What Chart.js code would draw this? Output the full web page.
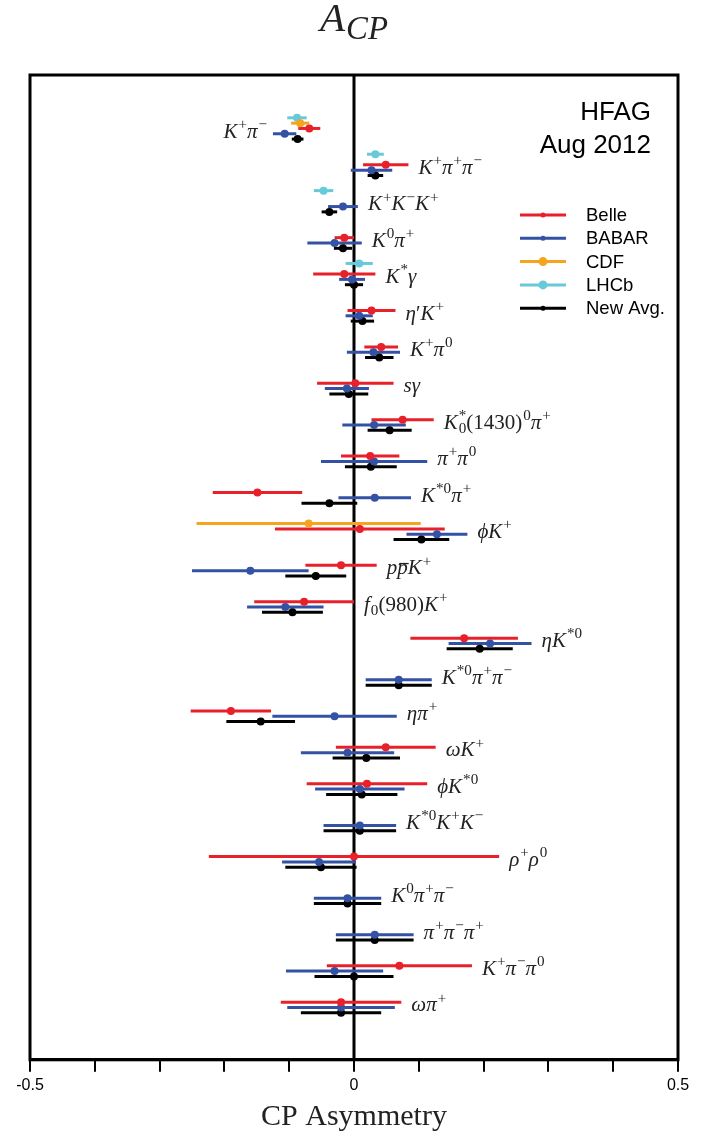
<!DOCTYPE html>
<html>
<head>
<meta charset="utf-8">
<title>A_CP</title>
<script src="https://cdn.jsdelivr.net/npm/chart.js@4.4.0/dist/chart.umd.min.js"></script>
<style>
  body { margin: 0; background: #fff; }
  canvas { display: block; }
</style>
</head>
<body>
<canvas id="chart" width="718" height="1135"></canvas>
<script>
// decay channels, top to bottom
const channels = [
  'K^{+}π^{−}',
  'K^{+}π^{+}π^{−}',
  'K^{+}K^{−}K^{+}',
  'K^{0}π^{+}',
  'K^{*}γ',
  'η′K^{+}',
  'K^{+}π^{0}',
  'sγ',
  'K^{*}_{0}(1430)^{0}π^{+}',
  'π^{+}π^{0}',
  'K^{*0}π^{+}',
  'ϕK^{+}',
  'p\\bar{p}K^{+}',
  'f_{0}(980)K^{+}',
  'ηK^{*0}',
  'K^{*0}π^{+}π^{−}',
  'ηπ^{+}',
  'ωK^{+}',
  'ϕK^{*0}',
  'K^{*0}K^{+}K^{−}',
  'ρ^{+}ρ^{0}',
  'K^{0}π^{+}π^{−}',
  'π^{+}π^{−}π^{+}',
  'K^{+}π^{−}π^{0}',
  'ωπ^{+}',
]

const belle = [-0.069, 0.049, null, -0.015, -0.015, 0.027, 0.042, 0.002, 0.075, 0.025, -0.149, 0.009, -0.020,
  -0.077, 0.170, null, -0.190, 0.049, 0.020, null, 0.000, null, null, 0.070, -0.020]
const belleErr = [0.017, 0.035, null, 0.015, 0.048, 0.037, 0.026, 0.059, 0.048, 0.045, 0.069, 0.131, 0.055,
  0.077, 0.083, null, 0.062, 0.077, 0.093, null, 0.224, null, null, 0.112, 0.093]

const babar = [-0.107, 0.027, -0.017, -0.030, -0.003, 0.008, 0.030, -0.011, 0.031, 0.031, 0.032, 0.128, -0.160,
  -0.106, 0.210, 0.069, -0.030, -0.010, 0.009, 0.009, -0.054, -0.010, 0.032, -0.030, -0.020]
const babarErr = [0.018, 0.032, 0.023, 0.042, 0.020, 0.021, 0.041, 0.034, 0.049, 0.082, 0.056, 0.047, 0.090,
  0.059, 0.064, 0.051, 0.096, 0.072, 0.069, 0.056, 0.057, 0.052, 0.060, 0.075, 0.083]

const cdf = [-0.083, null, null, null, null, null, null, null, null, null, null, -0.070, null,
  null, null, null, null, null, null, null, null, null, null, null, null]
const cdfErr = [0.014, null, null, null, null, null, null, null, null, null, null, 0.173, null,
  null, null, null, null, null, null, null, null, null, null, null, null]

const lhcb = [-0.088, 0.033, -0.047, null, 0.008, null, null, null, null, null, null, null, null,
  null, null, null, null, null, null, null, null, null, null, null, null]
const lhcbErr = [0.015, 0.013, 0.015, null, 0.021, null, null, null, null, null, null, null, null,
  null, null, null, null, null, null, null, null, null, null, null, null]

const newAvg = [-0.087, 0.033, -0.038, -0.017, 0.000, 0.013, 0.039, -0.008, 0.055, 0.026, -0.038, 0.104, -0.059,
  -0.095, 0.194, 0.069, -0.144, 0.019, 0.012, 0.009, -0.051, -0.010, 0.032, 0.000, -0.020]
const newAvgErr = [0.009, 0.012, 0.012, 0.014, 0.014, 0.018, 0.022, 0.030, 0.034, 0.040, 0.043, 0.043, 0.047,
  0.047, 0.051, 0.051, 0.053, 0.052, 0.055, 0.056, 0.055, 0.052, 0.060, 0.061, 0.062]

const tickValues = [-0.5, 0, 0.5]
const tickText = ['-0.5', '0', '0.5']

// channels whose name sits left of the bars
const labelOnLeft = [0]

const ROW_STEP = 0.146
const SERIF = '"Liberation Serif", "DejaVu Serif", serif'
const SANS = '"Liberation Sans", Arial, sans-serif'

// slot = position inside a channel row, counted upwards from the average
const experiments = [
  { name: 'Belle', color: '#e8202a', slot: 2, values: belle, errors: belleErr, dot: 2.5 },
  { name: 'BABAR', color: '#3452a4', slot: 1, values: babar, errors: babarErr, dot: 2.5 },
  { name: 'CDF', color: '#f6a31f', slot: 3, values: cdf, errors: cdfErr, dot: 4.5 },
  { name: 'LHCb', color: '#68c9da', slot: 4, values: lhcb, errors: lhcbErr, dot: 4.5 },
  { name: 'New Avg.', color: '#000000', slot: 0, values: newAvg, errors: newAvgErr, dot: 2.5 },
]

function points( exp ) {
  const pts = []
  exp.values.forEach( ( v, i ) => {
    if ( v === null ) return
    pts.push( { x: v, y: i - exp.slot * ROW_STEP, err: exp.errors[i] } )
  } )
  return pts
}

// --- tiny math-text renderer (sup/sub/bar) ---
function parseMath( str ) {
  const out = []
  let i = 0
  const grab = () => {
    if ( str[i] === '{' ) {
      const end = str.indexOf( '}', i )
      const s = str.slice( i + 1, end )
      i = end + 1
      return s
    }
    return str[i++]
  }
  while ( i < str.length ) {
    if ( str[i] === '^' ) { i++; out.push( { text: grab(), kind: 'sup' } ) }
    else if ( str[i] === '_' ) { i++; out.push( { text: grab(), kind: 'sub' } ) }
    else if ( str.startsWith( '\\bar', i ) ) { i += 4; out.push( { text: grab(), kind: 'bar' } ) }
    else { out.push( { text: str[i], kind: 'base' } ); i++ }
  }
  return out
}

const uprightChars = /[0-9()+−*′]/
function fontFor( ch, size ) {
  return ( uprightChars.test( ch ) ? '' : 'italic ' ) + size + 'px ' + SERIF
}

function layoutMath( ctx, str, size, scriptScale ) {
  const ops = []
  let x = 0
  let scriptX = null
  let scriptW = 0
  let lastScript = null
  parseMath( str ).forEach( ( part ) => {
    const isScript = part.kind === 'sup' || part.kind === 'sub'
    const s = isScript ? size * scriptScale : size
    const dy = part.kind === 'sup' ? -size * 0.42 : part.kind === 'sub' ? size * 0.2 : 0
    let start
    if ( isScript && lastScript && lastScript !== part.kind ) {
      start = scriptX
    } else {
      if ( scriptX !== null ) { x = scriptX + scriptW; scriptX = null; scriptW = 0 }
      start = x + ( isScript ? 1 : 0 )
    }
    let cx = start
    for ( const ch of part.text ) {
      ctx.font = fontFor( ch, s )
      const w = ctx.measureText( ch ).width
      ops.push( { ch, x: cx, dy, size: s, w, bar: part.kind === 'bar' } )
      cx += w
    }
    if ( isScript ) {
      if ( scriptX === null ) scriptX = start
      scriptW = Math.max( scriptW, cx - scriptX )
      lastScript = part.kind
    } else {
      x = cx
      lastScript = null
    }
  } )
  if ( scriptX !== null ) x = Math.max( x, scriptX + scriptW )
  return { ops, width: x }
}

function drawMath( ctx, str, x, y, size, align, scriptScale = 0.72 ) {
  const lay = layoutMath( ctx, str, size, scriptScale )
  const x0 = align === 'right' ? x - lay.width : align === 'center' ? x - lay.width / 2 : x
  ctx.textBaseline = 'alphabetic'
  ctx.textAlign = 'left'
  lay.ops.forEach( ( op ) => {
    ctx.font = fontFor( op.ch, op.size )
    ctx.fillText( op.ch, x0 + op.x, y + op.dy )
    if ( op.bar ) {
      ctx.fillRect( x0 + op.x + 2, y - op.size * 0.55, op.w - 1, 1.3 )
    }
  } )
}

const decorations = {
  id: 'decorations',
  beforeDatasetsDraw( chart ) {
    const { ctx, chartArea: a, scales: { x, y } } = chart
    ctx.save()
    // zero line
    ctx.strokeStyle = '#000'
    ctx.lineWidth = 3
    ctx.beginPath()
    ctx.moveTo( x.getPixelForValue( 0 ), a.top )
    ctx.lineTo( x.getPixelForValue( 0 ), a.bottom )
    ctx.stroke()
    // error bars
    chart.data.datasets.forEach( ( ds ) => {
      ctx.strokeStyle = ds.borderColor
      ctx.lineWidth = 3
      ds.data.forEach( ( p ) => {
        const py = y.getPixelForValue( p.y )
        ctx.beginPath()
        ctx.moveTo( x.getPixelForValue( p.x - p.err ), py )
        ctx.lineTo( x.getPixelForValue( p.x + p.err ), py )
        ctx.stroke()
      } )
    } )
    ctx.restore()
  },
  afterDraw( chart ) {
    const { ctx, chartArea: a, scales: { x, y } } = chart
    ctx.save()
    // frame
    ctx.strokeStyle = '#000'
    ctx.lineWidth = 3
    ctx.strokeRect( a.left, a.top, a.right - a.left, a.bottom - a.top )

    // channel names
    ctx.fillStyle = '#222'
    channels.forEach( ( name, i ) => {
      let lo = Infinity
      let hi = -Infinity
      experiments.forEach( ( e ) => {
        if ( e.values[i] === null ) return
        lo = Math.min( lo, e.values[i] - e.errors[i] )
        hi = Math.max( hi, e.values[i] + e.errors[i] )
      } )
      const py = y.getPixelForValue( i ) - 1.5
      if ( labelOnLeft.includes( i ) ) {
        drawMath( ctx, name, x.getPixelForValue( lo ) - 6, py, 21, 'right' )
      } else {
        drawMath( ctx, name, x.getPixelForValue( hi ) + 10, py, 21, 'left' )
      }
    } )

    // title
    drawMath( ctx, 'A_{CP}', ( a.left + a.right ) / 2, 31, 41, 'center', 0.8 )

    // tag
    ctx.fillStyle = '#000'
    ctx.font = '26px ' + SANS
    ctx.textAlign = 'right'
    ctx.textBaseline = 'alphabetic'
    ctx.fillText( 'HFAG', 651, 120 )
    ctx.fillText( 'Aug 2012', 651, 153 )

    // legend
    ctx.font = '18.5px ' + SANS
    ctx.textAlign = 'left'
    ctx.textBaseline = 'middle'
    experiments.forEach( ( e, k ) => {
      const ly = 215 + k * 23.3
      ctx.strokeStyle = e.color
      ctx.lineWidth = 3
      ctx.beginPath()
      ctx.moveTo( 520, ly )
      ctx.lineTo( 566, ly )
      ctx.stroke()
      ctx.fillStyle = e.color
      ctx.beginPath()
      ctx.arc( 543, ly, e.dot, 0, Math.PI * 2 )
      ctx.fill()
      ctx.fillStyle = '#000'
      ctx.fillText( e.name, 586, ly + 1 )
    } )
    ctx.restore()
  },
}

const ctx = document.getElementById( 'chart' ).getContext( '2d' )

new Chart( ctx, {
  type: 'scatter',
  data: {
    datasets: experiments.map( ( e ) => ( {
      label: e.name,
      data: points( e ),
      backgroundColor: e.color,
      borderColor: e.color,
      borderWidth: 0,
      pointRadius: 4,
      pointHoverRadius: 4,
    } ) ),
  },
  options: {
    responsive: false,
    animation: false,
    layout: { padding: { left: 30, right: 40, top: 75, bottom: 0 } },
    plugins: {
      legend: { display: false },
      tooltip: { enabled: false },
    },
    scales: {
      x: {
        type: 'linear',
        min: -0.5,
        max: 0.5,
        position: 'bottom',
        grid: { drawOnChartArea: false, drawTicks: true, tickLength: 12, color: '#000', lineWidth: 2 },
        border: { display: true, color: '#000', width: 3 },
        ticks: {
          stepSize: 0.1,
          autoSkip: false,
          maxRotation: 0,
          padding: 4,
          color: '#000',
          font: { family: SANS, size: 16 },
          callback: ( v ) => {
            const k = tickValues.findIndex( ( t ) => Math.abs( t - v ) < 1e-9 )
            return k >= 0 ? tickText[k] : ''
          },
        },
        title: {
          display: true,
          text: 'CP Asymmetry',
          color: '#222',
          font: { family: SERIF, size: 30 },
          padding: { top: 0, bottom: 0 },
        },
      },
      y: {
        type: 'linear',
        display: false,
        reverse: true,
        min: -1.76,
        max: 25.29,
      },
    },
  },
  plugins: [decorations],
} )
</script>
</body>
</html>
